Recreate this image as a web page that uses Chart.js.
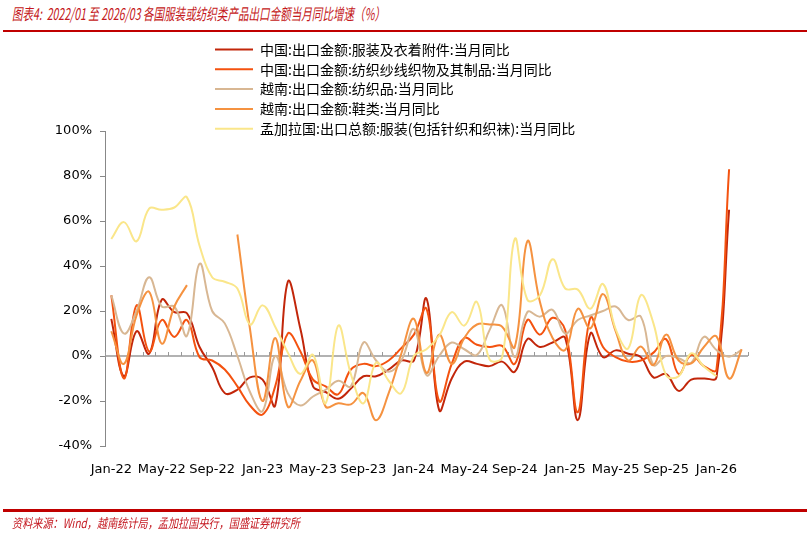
<!DOCTYPE html>
<html>
<head>
<meta charset="utf-8">
<script src="https://cdn.jsdelivr.net/npm/chart.js@4"></script>
<style>
  body { margin: 0; background: #fff; }
  #wrap { position: relative; width: 810px; height: 535px; overflow: hidden; }
  #chartBox { position: absolute; left: 0; top: 0; width: 810px; height: 535px; }
  .title { position: absolute; left: 12px; top: 1px; white-space: nowrap; color: #C41820;
           font: italic 16px "Noto Sans CJK SC", sans-serif; transform: scaleX(0.66); transform-origin: left top; }
  .source { position: absolute; left: 12px; top: 513px; white-space: nowrap; color: #C41820;
            font: italic 13px "Noto Sans CJK SC", sans-serif; transform: scaleX(0.78); transform-origin: left top; }
  .rule { position: absolute; left: 3px; width: 804px; background: #C00000; }
</style>
</head>
<body>
<div id="wrap">
  <div class="title">图表4:&nbsp; 2022/01 至 2026/03 各国服装或纺织类产品出口金额当月同比增速（%）</div>
  <div class="rule" style="top:30px;height:2px;"></div>
  <div id="chartBox"><canvas id="tradeChart"></canvas></div>
  <div class="rule" style="top:509px;height:2.5px;"></div>
  <div class="source">资料来源：Wind，越南统计局，孟加拉国央行，国盛证券研究所</div>
</div>
<script>
// months Jan-22 .. Mar-26
const months = [
  "Jan-22","Feb-22","Mar-22","Apr-22","May-22","Jun-22","Jul-22","Aug-22","Sep-22","Oct-22","Nov-22","Dec-22",
  "Jan-23","Feb-23","Mar-23","Apr-23","May-23","Jun-23","Jul-23","Aug-23","Sep-23","Oct-23","Nov-23","Dec-23",
  "Jan-24","Feb-24","Mar-24","Apr-24","May-24","Jun-24","Jul-24","Aug-24","Sep-24","Oct-24","Nov-24","Dec-24",
  "Jan-25","Feb-25","Mar-25","Apr-25","May-25","Jun-25","Jul-25","Aug-25","Sep-25","Oct-25","Nov-25","Dec-25",
  "Jan-26","Feb-26","Mar-26"
];

const seriesNames = [
  "中国:出口金额:服装及衣着附件:当月同比",
  "中国:出口金额:纺织纱线织物及其制品:当月同比",
  "越南:出口金额:纺织品:当月同比",
  "越南:出口金额:鞋类:当月同比",
  "孟加拉国:出口总额:服装(包括针织和织袜):当月同比"
];
const seriesColors = ["#C2260A", "#F4520F", "#D8B793", "#F59240", "#FAE68A"];

// values in %
const chinaApparel = [16.5, -9, 11, 1, 25, 19.5, 19, 4, -5, -16.5, -15, -9.5,
  -10.5, -22, 33, 12, -13.5, -16, -19, -14.5, -9, -9, -6, -2,
  -2, 25.5, -24, -10, -2.5, -3.5, -4.5, -2.5, -7, 7.5, 4, 6,
  8, -28.5, 10, -0.5, 2.5, 1, -0.5, -9.5, -8, -15.5, -10.5, -10,
  -9.5, 65, null];
const chinaTextile = [27, -10, 22.5, 2, 16, 8.5, 16, -0.5, -2, -6, -13.5, -22,
  -26, -13.5, 10, 2, -10.5, -13.5, -17, -6, -3.5, -4.5, -2, 3.5,
  9.5, 21, -20, -3.5, 8, 5, 4, 4.5, -3.5, 16, 9.5, 17,
  11.5, -25, 17, 4, -0.5, -2.5, -2, 1.5, 7.5, -8, 0.5, -4.5,
  -6, 83, null];
const vnTextile = [27, 10, 20, 35, 22, 22, 9, 41, 20, 14.5, 0, -16,
  -24.5, 0, -16.5, -22, -18, -15, -11, -13.5, 6, -2, -7, -2,
  12, -8.5, 0, 6, 3, 0.5, 11.5, 22.5, -0.5, 19.5, 17.5, 20.5,
  10, 16, 18, 20, 22, 16, 17.5, -4, 0, -1, -3, 8.5,
  2.7, -0.3, 2.7];
const vnFootwear = [11, -3.5, 18, 28.5, 5.5, 22, 31.5, null, null, null, 54, 12,
  -20, 8, -22.5, -11, -2, -22.5, -21, -21.5, -16.5, -28.5, -16.5, 1,
  16.5, -7.5, 9.5, -3.5, 8, 14, 14, 13, 4, 51, 24, 8,
  2.7, 21, 12.3, 27.5, 11, -2, 4.2, -4, 9.5, -2, -3.3, 4,
  8.7, -10, 3];
const bdApparel = [52, 59.5, 51, 65.5, 65, 66, 70.5, 49, 35, 33, 30, 14,
  22.5, 13, 1.5, -8, 0.5, -21, 13.5, -8, -21, -3, -11, -16.5,
  0, 3, 9, 19.5, 13.5, 24, -1.5, -0.5, 52, 25, 27, 43,
  30, 29.5, 21, 32, 12, 3.4, 27, 14.5, -8.5, -9, 1.2, -4.7,
  -9, null, null];

const seriesData = [chinaApparel, chinaTextile, vnTextile, vnFootwear, bdApparel];

const axisFont = { family: "DejaVu Sans", size: 13 };

// zero line with small month ticks, like the excel axis crossing at 0
const zeroAxisPlugin = {
  id: "zeroAxis",
  beforeDatasetsDraw(chart) {
    const { ctx, chartArea, scales } = chart;
    const y0 = scales.y.getPixelForValue(0);
    ctx.save();
    ctx.strokeStyle = "#999";
    ctx.lineWidth = 1.5;
    ctx.beginPath();
    ctx.moveTo(chartArea.left, y0);
    ctx.lineTo(chartArea.right, y0);
    ctx.stroke();
    ctx.lineWidth = 1;
    ctx.beginPath();
    for (let k = 0; k <= months.length; k++) {
      const x = Math.round(scales.x.getPixelForValue(k - 0.5)) + 0.5;
      ctx.moveTo(x, y0);
      ctx.lineTo(x, y0 - 4);
    }
    ctx.stroke();
    ctx.restore();
  }
};

// legend drawn as a stacked list above the plot
const stackedLegendPlugin = {
  id: "stackedLegend",
  afterDraw(chart) {
    const { ctx } = chart;
    ctx.save();
    ctx.font = '14px "Noto Sans CJK SC"';
    ctx.textBaseline = "middle";
    chart.data.datasets.forEach((ds, i) => {
      const y = 49.5 + i * 19.8;
      ctx.strokeStyle = ds.borderColor;
      ctx.lineWidth = 2;
      ctx.beginPath();
      ctx.moveTo(215, y);
      ctx.lineTo(253, y);
      ctx.stroke();
      ctx.fillStyle = "#000";
      ctx.fillText(ds.label, 260, y);
    });
    ctx.restore();
  }
};

const ctx = document.getElementById("tradeChart").getContext("2d");
new Chart(ctx, {
  type: "line",
  data: {
    labels: months,
    datasets: seriesData.map((d, i) => ({
      label: seriesNames[i],
      data: d,
      borderColor: seriesColors[i],
      backgroundColor: seriesColors[i],
      borderWidth: 2,
      pointRadius: 0,
      tension: 0.4,
      spanGaps: false,
      order: 5 - i,
    })),
  },
  options: {
    animation: false,
    responsive: true,
    maintainAspectRatio: false,
    layout: { padding: { top: 131, right: 62, left: 0, bottom: 0 } },
    plugins: {
      legend: { display: false },
      tooltip: { enabled: false },
    },
    scales: {
      x: {
        offset: true,
        grid: { display: false },
        border: { display: false },
        ticks: {
          autoSkip: false,
          maxRotation: 0,
          minRotation: 0,
          padding: 8,
          color: "#000",
          font: axisFont,
          callback: (v, i) => (i % 4 === 0 ? months[i] : ""),
        },
        afterFit: (scale) => { scale.height = 89; },
      },
      y: {
        min: -40,
        max: 100,
        ticks: {
          stepSize: 20,
          padding: 8,
          color: "#000",
          font: axisFont,
          callback: (v) => v + "%",
        },
        grid: { drawOnChartArea: false, drawTicks: true, tickLength: 5, color: "#888" },
        border: { display: true, color: "#888", width: 1 },
        afterFit: (scale) => { scale.width = 105; },
      },
    },
  },
  plugins: [zeroAxisPlugin, stackedLegendPlugin],
});
</script>
</body>
</html>
